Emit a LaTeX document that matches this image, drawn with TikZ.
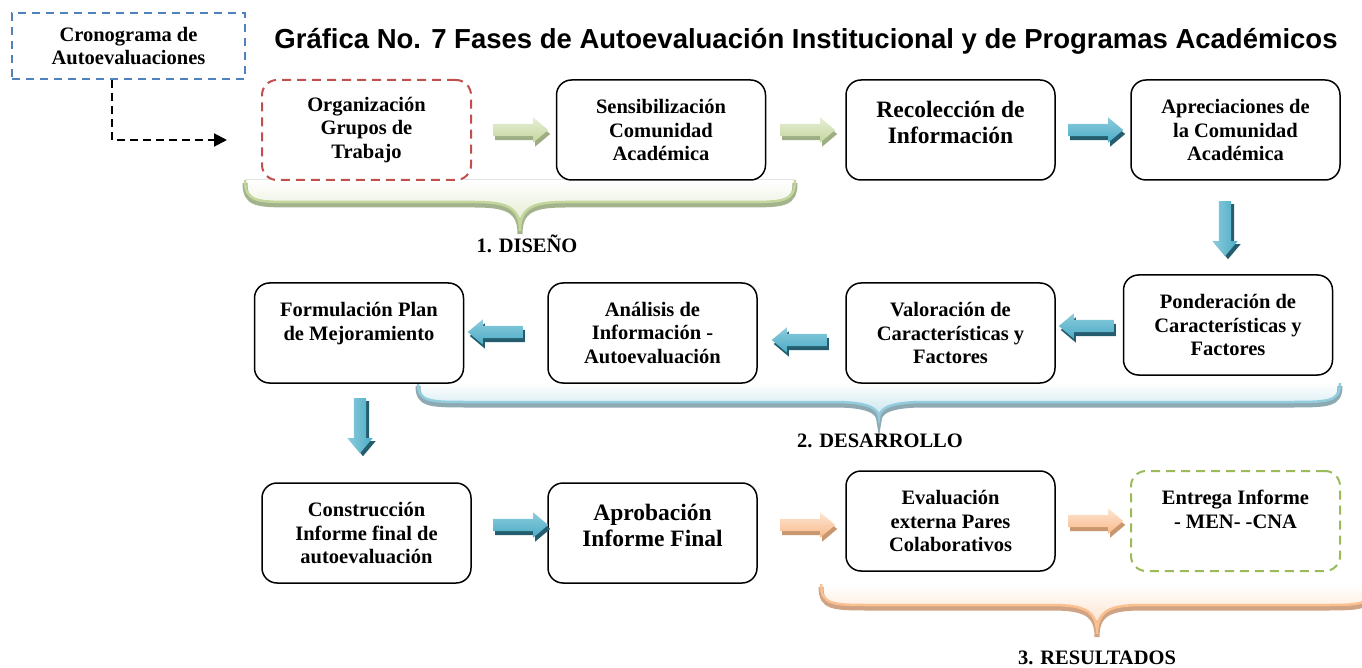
\documentclass[tikz,border=0pt]{standalone}
\usepackage{fontspec}
\setmainfont{Liberation Serif}
\newfontfamily\titlefont{Liberation Sans}
\usetikzlibrary{shapes.arrows,shadows,arrows.meta,calc}
\definecolor{dashred}{HTML}{C0504D}
\definecolor{dashgreen}{HTML}{9BBB59}
\definecolor{dashblue}{HTML}{4F81BD}
\definecolor{gLight}{HTML}{D7E4BD}
\definecolor{gMid}{HTML}{C3D69B}
\definecolor{gDark}{HTML}{9DAE84}
\definecolor{bLight}{HTML}{8CCBDC}
\definecolor{bMid}{HTML}{4BACC6}
\definecolor{bDark}{HTML}{245E6E}
\definecolor{oLight}{HTML}{FCD5B5}
\definecolor{oMid}{HTML}{F9B98A}
\definecolor{oDark}{HTML}{C8976F}
\definecolor{gBrDark}{HTML}{A3B38D}
\definecolor{bBrLight}{HTML}{93CDDD}
\definecolor{bBrDark}{HTML}{8DA9B2}
\definecolor{oBrLight}{HTML}{FAC090}
\definecolor{oBrDark}{HTML}{D0A384}

\newcommand\phbrace[8]{%
  \fill[top color=white, bottom color=#7!55]
    (#1,#4) .. controls (#1,#5) and ({#1+12},#5) .. ({#1+50},#5) -- ({#2-45},#5)
    .. controls ({#2-12},#5) and (#2,{#5+6}) .. (#2,#6)
    .. controls (#2,{#5+6}) and ({#2+12},#5) .. ({#2+45},#5) -- ({#3-50},#5)
    .. controls ({#3-12},#5) and (#3,#5) .. (#3,#4) -- cycle;
  \draw[#8, line width=5pt, yshift=-3pt]
    (#1,#4) .. controls (#1,#5) and ({#1+12},#5) .. ({#1+50},#5) -- ({#2-45},#5)
    .. controls ({#2-12},#5) and (#2,{#5+6}) .. (#2,#6)
    .. controls (#2,{#5+6}) and ({#2+12},#5) .. ({#2+45},#5) -- ({#3-50},#5)
    .. controls ({#3-12},#5) and (#3,#5) .. (#3,#4);
  \draw[#7, line width=2.5pt]
    (#1,#4) .. controls (#1,#5) and ({#1+12},#5) .. ({#1+50},#5) -- ({#2-45},#5)
    .. controls ({#2-12},#5) and (#2,{#5+6}) .. (#2,#6)
    .. controls (#2,{#5+6}) and ({#2+12},#5) .. ({#2+45},#5) -- ({#3-50},#5)
    .. controls ({#3-12},#5) and (#3,#5) .. (#3,#4);
}

\begin{document}
\begin{tikzpicture}[x=1pt,y=-1pt,
  txtfont/.style={font=\bfseries\fontsize{20.5}{23.5}\selectfont},
  bigfont/.style={font=\bfseries\fontsize{23.5}{26}\selectfont},
  procbox/.style={draw=black, line width=1.5pt, rounded corners=15pt, fill=white,
     minimum width=209pt, minimum height=100pt, align=center, inner sep=2pt, txtfont},
  dashbox/.style={procbox, line width=2pt, dash pattern=on 9pt off 6pt},
  arrowbase/.style={single arrow, single arrow head extend=6.5pt, single arrow tip angle=80,
     inner xsep=0pt, inner ysep=6pt, minimum height=55pt, minimum width=0pt, draw=none},
  garrow/.style={arrowbase, top color=gLight!60!white, bottom color=gMid,
     drop shadow={shadow xshift=2pt, shadow yshift=-4pt, fill=gDark, opacity=1}},
  barrow/.style={arrowbase, top color=bLight, bottom color=bMid,
     drop shadow={shadow xshift=2pt, shadow yshift=-4pt, fill=bDark, opacity=1}},
  bdarrow/.style={arrowbase, shape border rotate=270, inner xsep=6pt, inner ysep=0pt,
     left color=bLight, right color=bMid,
     drop shadow={shadow xshift=3pt, shadow yshift=-3pt, fill=bDark, opacity=1}},
  oarrow/.style={arrowbase, top color=oLight!60!white, bottom color=oMid,
     drop shadow={shadow xshift=2pt, shadow yshift=-4pt, fill=oDark, opacity=1}},
  phaselabel/.style={txtfont}
]
\useasboundingbox (0,0) rectangle (1362,668);

% braces (background)
\phbrace{245}{520}{795}{180}{202}{231}{gMid}{gBrDark}
\phbrace{418}{879}{1340}{383}{402}{418}{bBrLight}{bBrDark}
\phbrace{821}{1097}{1373}{584}{605}{634}{oBrLight}{oBrDark}

% title
\node[font=\titlefont\bfseries\fontsize{27.5}{30}\selectfont] (title) at (806,41)
  {Gráfica No. 7 Fases de Autoevaluación Institucional y de Programas Académicos};

% cronograma
\node[draw=dashblue, line width=2pt, dash pattern=on 8pt off 6pt, minimum width=233pt,
  minimum height=66pt, align=center, txtfont, inner sep=2pt] (crono) at (128.5,46)
  {Cronograma de\\Autoevaluaciones};

% row 1
\node[dashbox, draw=dashred] (org) at (366.5,130) {Organización\\Grupos de\\Trabajo};
\node[procbox] (sen) at (661,130) {Sensibilización\\Comunidad\\Académica};
\node[procbox, bigfont] (rec) at (950.5,130) {Recolección de\\Información\\[-10pt]\mbox{}};
\node[procbox] (apr) at (1235.5,130) {Apreciaciones de\\la Comunidad\\Académica};

% row 2
\node[procbox] (pon) at (1228,325) {Ponderación de\\Características y\\Factores};
\node[procbox] (val) at (950.5,333) {Valoración de\\Características y\\Factores};
\node[procbox] (ana) at (652.5,333) {Análisis de\\Información -\\Autoevaluación};
\node[procbox] (for) at (359,333) {Formulación Plan\\de Mejoramiento\\\mbox{}};

% row 3
\node[procbox] (con) at (366.5,533) {Construcción\\Informe final de\\autoevaluación};
\node[procbox, bigfont] (apb) at (652.5,533) {Aprobación\\Informe Final\\[-10pt]\mbox{}};
\node[procbox] (eva) at (950.5,521) {Evaluación\\externa Pares\\Colaborativos};
\node[dashbox, draw=dashgreen] (ent) at (1235.5,521) {Entrega Informe\\- MEN- -CNA\\\mbox{}};

% dashed connector
\coordinate (ce) at (227,140);
\draw[line width=2pt, dash pattern=on 8pt off 5pt, -{Triangle[length=13pt,width=13pt]}]
  ([xshift=-16.5pt]crono.south) |- (ce);

% block arrows
\node[garrow] (a1) at (517,130) {};
\node[garrow] (a2) at (804,130) {};
\node[barrow] (a3) at (1092,130) {};
\node[bdarrow] (d1) at (1225,225) {};
\node[barrow, shape border rotate=180] (b3) at (1090,326) {};
\node[barrow, shape border rotate=180] (b2) at (803,340) {};
\node[barrow, shape border rotate=180] (b1) at (499,332) {};
\node[bdarrow] (d2) at (360,422) {};
\node[barrow] (c1) at (517,525) {};
\node[oarrow] (c2) at (804,525) {};
\node[oarrow] (c3) at (1092,521) {};

% phase labels
\node[phaselabel] (l1) at (527,244) {1. DISEÑO};
\node[phaselabel] (l2) at (880,441) {2. DESARROLLO};
\node[phaselabel] (l3) at (1097,658) {3. RESULTADOS};
\end{tikzpicture}
\end{document}
